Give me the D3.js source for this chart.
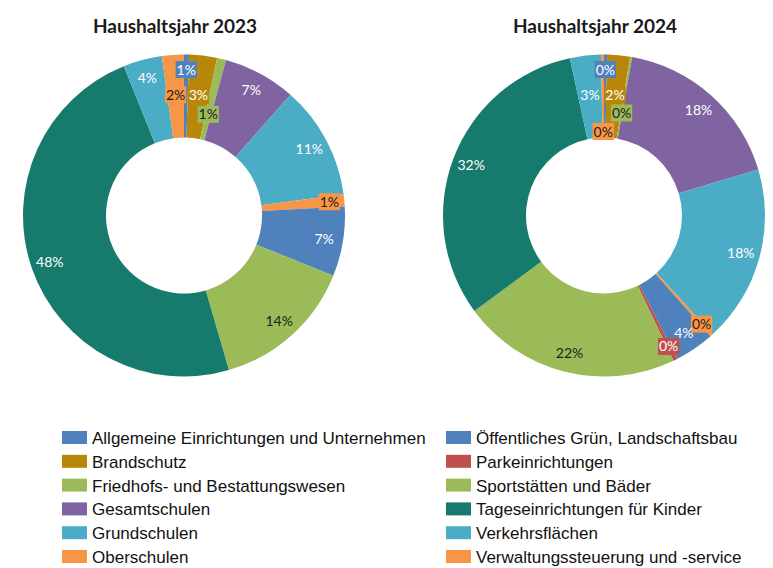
<!DOCTYPE html>
<html><head><meta charset="utf-8">
<script src="https://cdn.jsdelivr.net/npm/d3@7"></script>
<style>body{margin:0;background:#fff;} svg{display:block;}</style>
</head><body>
<script>
const categories = ["Allgemeine Einrichtungen und Unternehmen","Brandschutz","Friedhofs- und Bestattungswesen","Gesamtschulen","Grundschulen","Oberschulen","Öffentliches Grün, Landschaftsbau","Parkeinrichtungen","Sportstätten und Bäder","Tageseinrichtungen für Kinder","Verkehrsflächen","Verwaltungssteuerung und -service"];
const chartTitles = ["Haushaltsjahr 2023","Haushaltsjahr 2024"];
const values2023 = [0.5,2.8,0.9,7.3,11.4,1.2,7.0,0,14.4,48.4,3.9,2.2];
const values2024 = [0.3,2.3,0.2,17.6,17.8,0.3,4.0,0.4,22.0,31.7,3.1,0.3];
const colors = ["#4F81BD","#B8870A","#9BBB59","#8064A2","#4BACC6","#F79646","#4F81BD","#C0504D","#9BBB59","#167B6D","#4BACC6","#F79646"];

const W=773,H=568;
const svg=d3.select("body").append("svg").attr("width",W).attr("height",H);
const R=161, R0=78;
const centers=[[184,215.5],[604,215.5]];
const seriesList=[values2023,values2024];
const pie=d3.pie().sort(null).value(d=>d).startAngle(0).endAngle(2*Math.PI);
const arc=d3.arc().innerRadius(R0).outerRadius(R);
const LF="Lato, 'Open Sans', sans-serif";
const FS=14;
const measure=svg.append("text").attr("font-family",LF).attr("font-size",FS).attr("visibility","hidden");
function tw(s){measure.text(s);return measure.node().getComputedTextLength();}
function textCol(c){const k=d3.rgb(c);return (0.299*k.r+0.587*k.g+0.114*k.b)>155?"#1e1e1e":"#ffffff";}

seriesList.forEach((vals,ci)=>{
  const [cx,cy]=centers[ci];
  const g=svg.append("g").attr("transform",`translate(${cx},${cy})`);
  const total=d3.sum(vals);
  const arcs=pie(vals);
  g.selectAll("path.slice").data(arcs).join("path").attr("class","slice")
    .attr("d",arc).attr("fill",(d,i)=>colors[i]);
  svg.append("text").attr("x",cx-9).attr("y",33).attr("text-anchor","middle")
    .attr("font-family",LF).attr("font-weight","bold").attr("font-size",19).attr("fill","#1a1a1a")
    .text(chartTitles[ci]);
  const placed=[];
  const items=[];
  arcs.forEach((a,i)=>{
    if(vals[i]===0) return;
    const pct=Math.round(vals[i]/total*1000)/10;
    const rnd=Math.round(pct);
    const txt=rnd+"%";
    const mid=(a.startAngle+a.endAngle)/2;
    const boxed=pct<3;
    const w=tw(txt)+(boxed?2:0);
    let cands,pad=0;
    if(rnd>=4) cands=[142];
    else if(rnd>=2) cands=[121,146,104,84];
    else {cands=[146,104,121,84];pad=12;}
    let pos=null;
    for(const rr of cands){
      const x=Math.sin(mid)*rr,y=-Math.cos(mid)*rr;
      const b={x0:x-w/2-pad,x1:x+w/2+pad,y0:y-8,y1:y+8};
      if(rnd>=4||!placed.some(p=>b.x0<p.x1&&b.x1>p.x0&&b.y0<p.y1&&b.y1>p.y0)){pos={x,y};break;}
    }
    if(!pos){const rr=cands[cands.length-1];pos={x:Math.sin(mid)*rr,y:-Math.cos(mid)*rr};}
    if(rnd<4) placed.push({x0:pos.x-w/2,x1:pos.x+w/2,y0:pos.y-8,y1:pos.y+8});
    items.push({x:pos.x,y:pos.y,w,txt,boxed,col:colors[i]});
  });
  const lg=g.selectAll("g.lab").data(items).join("g").attr("class","lab")
    .attr("transform",d=>`translate(${d.x},${d.y})`);
  lg.filter(d=>d.boxed).append("rect").attr("x",d=>-d.w/2).attr("y",-8.5).attr("width",d=>d.w).attr("height",17)
    .attr("fill",d=>d.col);
  lg.append("text").attr("text-anchor","middle").attr("dy","0.36em")
    .attr("font-family",LF).attr("font-size",FS).attr("fill",d=>textCol(d.col)).text(d=>d.txt);
});

// legend
const legend=svg.append("g");
const li=legend.selectAll("g").data(categories).join("g")
  .attr("transform",(d,i)=>`translate(${i<6?62:446},${444+(i%6)*23.8})`);
li.append("rect").attr("x",0).attr("y",-13).attr("width",25).attr("height",13).attr("fill",(d,i)=>colors[i]);
li.append("text").attr("x",30).attr("y",0)
  .attr("font-family","'Liberation Sans', Arial, sans-serif").attr("font-size",17).attr("fill","#111")
  .text(d=>d);
</script>
</body></html>
